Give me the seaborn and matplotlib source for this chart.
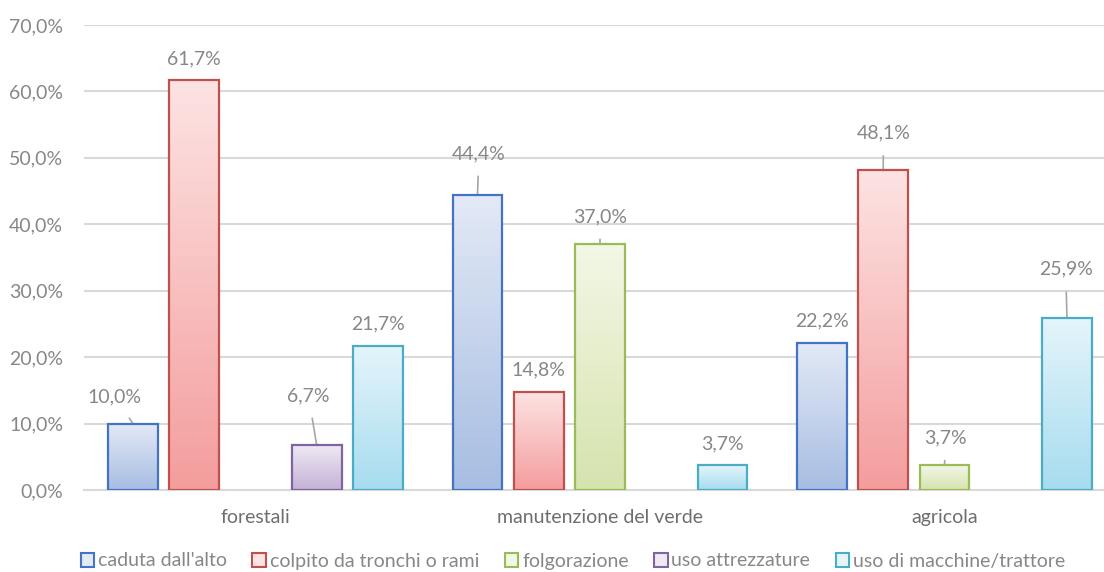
import numpy as np
import pandas as pd
import matplotlib
matplotlib.use("Agg")
import matplotlib.pyplot as plt
import seaborn as sns
from matplotlib.colors import LinearSegmentedColormap
from matplotlib.patches import Patch

# Data (percent); NaN = no bar
categories = ["forestali", "manutenzione del verde", "agricola"]
series = ["caduta dall'alto", "colpito da tronchi o rami", "folgorazione",
          "uso attrezzature", "uso di macchine/trattore"]
caduta = [10.0, 44.4, 22.2]
colpito = [61.7, 14.8, 48.1]
folgorazione = [np.nan, 37.0, 3.7]
attrezzature = [6.7, np.nan, np.nan]
macchine = [21.7, 3.7, 25.9]
yticks = [0, 10, 20, 30, 40, 50, 60, 70]

# Styling: edge colour, gradient bottom, gradient top
edge_colors = ["#4472C4", "#C0504D", "#9BBB59", "#8064A2", "#4BACC6"]
bottom_colors = ["#A7BDE2", "#F49D9D", "#D6E3AE", "#C4B2D6", "#A6DCEF"]
top_colors = ["#E3E9F6", "#FDE3E3", "#F3F7E6", "#EFE9F4", "#E5F5FB"]

# label offsets in points (dx, dy) for labels moved away from the bar top
label_offsets = {
    (0, 0): (-13, 19), (0, 3): (-6, 36),
    (1, 0): (1, 30), (1, 2): (0, 20),
    (2, 1): (0, 27), (2, 2): (1, 20), (2, 4): (-1, 35),
}

values = [caduta, colpito, folgorazione, attrezzature, macchine]
rows = []
for s, vals in zip(series, values):
    for c, v in zip(categories, vals):
        rows.append({"categoria": c, "serie": s, "valore": v})
df = pd.DataFrame(rows).dropna()

sns.set_style("white")
plt.rcParams["font.family"] = ["Lato", "DejaVu Sans"]

fig = plt.figure(figsize=(11.04, 5.72), dpi=100)
ax = fig.add_axes([84 / 1104, 1 - 490 / 572, 1 - 84 / 1104, (490 - 25) / 572])

sns.barplot(data=df, x="categoria", y="valore", hue="serie",
            order=categories, hue_order=series, width=0.889, gap=0.185,
            palette=bottom_colors, ax=ax, legend=False, zorder=3)

label_color = "#878787"
grad = np.linspace(0, 1, 256).reshape(-1, 1)
for i, cont in enumerate(ax.containers):
    cmap = LinearSegmentedColormap.from_list(f"g{i}", [bottom_colors[i], top_colors[i]])
    for bar in cont:
        h = bar.get_height()
        if not np.isfinite(h) or h <= 0:
            continue
        x0 = bar.get_x()
        w = bar.get_width()
        bar.set_facecolor("none")
        bar.set_edgecolor(edge_colors[i])
        bar.set_linewidth(1.6)
        bar.set_zorder(4)
        ax.imshow(grad, extent=[x0, x0 + w, 0, h], origin="lower", cmap=cmap,
                  aspect="auto", zorder=3, interpolation="bicubic")
        xc = x0 + w / 2
        cat = int(round(xc))
        txt = f"{h:.1f}%".replace(".", ",")
        if (cat, i) in label_offsets:
            dx, dy = label_offsets[(cat, i)]
            ax.annotate(txt, xy=(xc, h), xytext=(dx, dy), textcoords="offset points",
                        ha="center", va="center", fontsize=14, color=label_color,
                        arrowprops=dict(arrowstyle="-", color="#A6A6A6", lw=1.2,
                                        shrinkA=8, shrinkB=0))
        else:
            ax.annotate(txt, xy=(xc, h), xytext=(0, 15.5), textcoords="offset points",
                        ha="center", va="center", fontsize=14, color=label_color)

xmin = -(255.5 - 84) / 344.5
ax.set_xlim(xmin, xmin + 1020 / 344.5)
ax.set_ylim(0, 70)
ax.set_yticks(yticks)
ax.set_yticklabels([f"{t:.1f}%".replace(".", ",") for t in yticks])
ax.grid(axis="y", color="#D9D9D9", linewidth=1.5, zorder=0)
ax.set_axisbelow(True)
for side in ["top", "right", "left"]:
    ax.spines[side].set_visible(False)
ax.spines["bottom"].set_color("#D9D9D9")
ax.spines["bottom"].set_linewidth(1.5)
ax.tick_params(axis="y", length=0, pad=15, labelsize=14, labelcolor=label_color)
ax.tick_params(axis="x", length=0, pad=14, labelsize=14, labelcolor="#6E6E6E")
ax.set_xlabel("")
ax.set_ylabel("")

handles = [Patch(facecolor=top_colors[i], edgecolor=edge_colors[i], linewidth=1.5)
           for i in range(len(series))]
fig.legend(handles, series, loc="center", bbox_to_anchor=(0.519, 1 - 561 / 572),
           ncol=5, frameon=False, fontsize=14, labelcolor=label_color,
           handlelength=0.7, handleheight=0.7, handletextpad=0.2,
           columnspacing=1.3)

fig.savefig("out.png", dpi=100)
